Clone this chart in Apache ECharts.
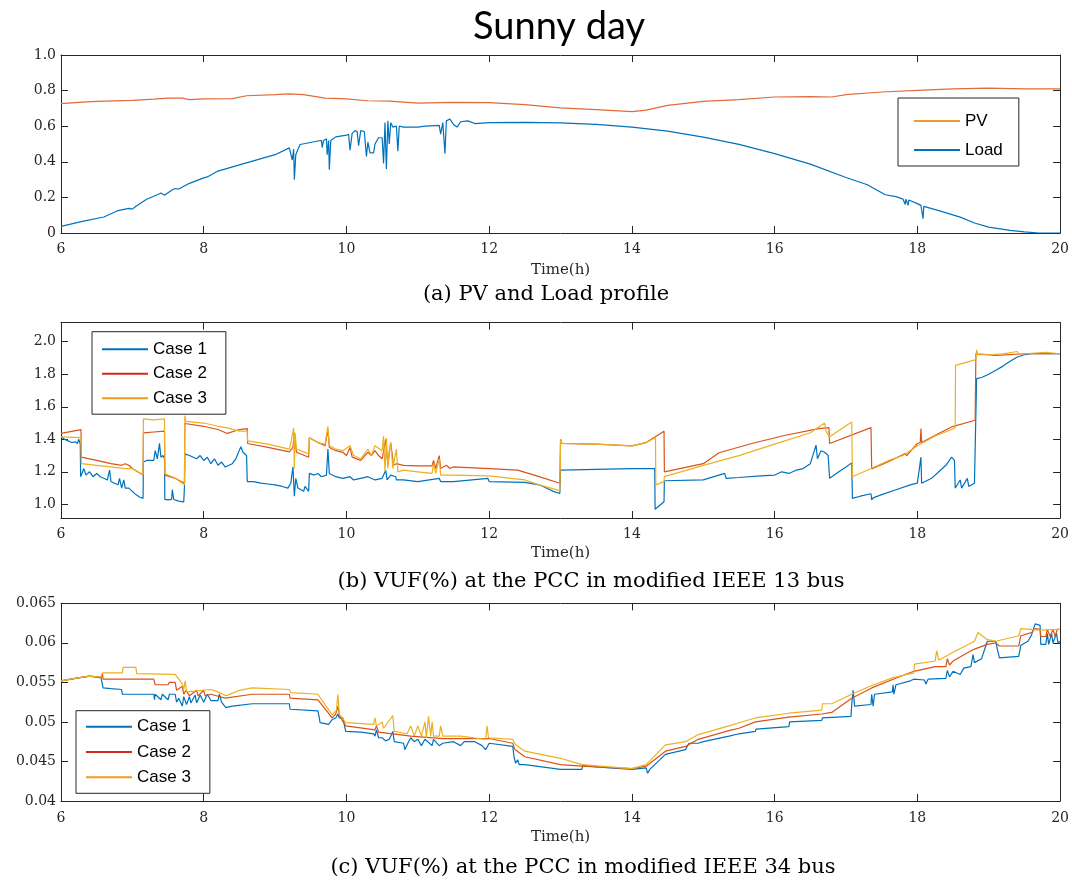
<!DOCTYPE html>
<html><head><meta charset="utf-8">
<script src="https://cdn.jsdelivr.net/npm/echarts@6/dist/echarts.min.js"></script>
<style>html,body{margin:0;padding:0;background:#fff}#c{width:1072px;height:888px}</style>
</head><body><div id="c"></div><script>
// ---------- data (time in hours, value) ----------
const xTicks = [6, 8, 10, 12, 14, 16, 18, 20];
const yTicksA = [0, 0.2, 0.4, 0.6, 0.8, 1.0];
const yTicksB = [1.0, 1.2, 1.4, 1.6, 1.8, 2.0];
const yTicksC = [0.04, 0.045, 0.05, 0.055, 0.06, 0.065];

const pvData = [[6.0,0.727],[6.3,0.735],[6.5,0.74],[7.0,0.745],[7.3,0.752],[7.5,0.758],[7.7,0.758],[7.8,0.749],[8.0,0.753],[8.4,0.755],[8.6,0.771],[9.0,0.777],[9.2,0.782],[9.4,0.777],[9.7,0.758],[10.0,0.753],[10.3,0.743],[10.6,0.741],[11.0,0.730],[11.5,0.734],[12.0,0.732],[12.5,0.721],[13.0,0.703],[13.5,0.693],[14.0,0.682],[14.2,0.69],[14.5,0.717],[15.0,0.740],[15.5,0.749],[16.0,0.764],[16.5,0.766],[16.8,0.764],[17.0,0.777],[17.5,0.792],[18.0,0.801],[18.5,0.81],[19.0,0.814],[19.5,0.81],[20.0,0.81]];

const loadData = [[6.0,0.037],[6.3,0.065],[6.6,0.09],[6.8,0.126],[6.95,0.138],[7.0,0.134],[7.05,0.15],[7.2,0.19],[7.35,0.215],[7.4,0.225],[7.45,0.212],[7.55,0.24],[7.6,0.25],[7.65,0.247],[7.8,0.279],[8.0,0.31],[8.05,0.315],[8.2,0.348],[8.5,0.383],[9.0,0.44],[9.2,0.478],[9.22,0.47],[9.24,0.41],[9.26,0.47],[9.27,0.30],[9.29,0.44],[9.32,0.47],[9.35,0.497],[9.6,0.517],[9.65,0.52],[9.66,0.48],[9.68,0.52],[9.72,0.53],[9.73,0.44],[9.75,0.52],[9.76,0.355],[9.78,0.52],[9.85,0.54],[10.0,0.55],[10.03,0.555],[10.05,0.465],[10.08,0.56],[10.12,0.575],[10.15,0.57],[10.17,0.49],[10.2,0.575],[10.25,0.57],[10.28,0.43],[10.3,0.51],[10.33,0.45],[10.38,0.45],[10.4,0.50],[10.45,0.535],[10.5,0.535],[10.52,0.39],[10.54,0.62],[10.56,0.36],[10.58,0.63],[10.6,0.50],[10.62,0.62],[10.65,0.595],[10.7,0.60],[10.72,0.46],[10.74,0.6],[10.8,0.595],[11.0,0.595],[11.1,0.60],[11.3,0.605],[11.32,0.555],[11.35,0.62],[11.38,0.445],[11.4,0.63],[11.45,0.64],[11.5,0.61],[11.55,0.595],[11.6,0.625],[11.7,0.63],[11.8,0.615],[12.0,0.62],[12.5,0.622],[13.0,0.619],[13.5,0.61],[14.0,0.595],[14.5,0.572],[15.0,0.539],[15.5,0.498],[16.0,0.446],[16.5,0.387],[17.0,0.312],[17.3,0.271],[17.55,0.215],[17.7,0.204],[17.8,0.19],[17.82,0.19],[17.83,0.16],[17.84,0.19],[17.86,0.185],[17.87,0.155],[17.88,0.185],[18.0,0.165],[18.05,0.155],[18.07,0.155],[18.08,0.08],[18.09,0.15],[18.3,0.126],[18.6,0.089],[18.8,0.056],[19.0,0.033],[19.3,0.015],[19.5,0.006],[19.7,0.0],[20.0,0.0]];

const bus13Case1 = [[6.0,1.415],[6.05,1.40],[6.1,1.39],[6.12,1.40],[6.15,1.38],[6.2,1.385],[6.23,1.374],[6.25,1.40],[6.27,1.37],[6.275,1.17],[6.3,1.18],[6.32,1.22],[6.35,1.18],[6.4,1.20],[6.45,1.17],[6.5,1.19],[6.55,1.17],[6.6,1.16],[6.65,1.15],[6.68,1.21],[6.7,1.14],[6.75,1.13],[6.8,1.12],[6.82,1.16],[6.85,1.10],[6.88,1.15],[6.9,1.10],[6.95,1.10],[7.0,1.08],[7.05,1.06],[7.1,1.045],[7.15,1.037],[7.155,1.26],[7.2,1.27],[7.3,1.27],[7.32,1.33],[7.35,1.28],[7.38,1.375],[7.4,1.29],[7.43,1.30],[7.45,1.28],[7.455,1.03],[7.5,1.027],[7.55,1.03],[7.56,1.09],[7.58,1.03],[7.65,1.02],[7.72,1.015],[7.73,1.11],[7.735,1.31],[7.8,1.30],[7.9,1.28],[7.95,1.30],[8.0,1.27],[8.05,1.29],[8.1,1.25],[8.15,1.28],[8.2,1.24],[8.25,1.26],[8.3,1.23],[8.4,1.25],[8.45,1.28],[8.52,1.355],[8.55,1.32],[8.6,1.30],[8.61,1.14],[8.7,1.14],[8.8,1.13],[8.9,1.125],[9.0,1.12],[9.1,1.11],[9.18,1.10],[9.22,1.13],[9.25,1.23],[9.27,1.05],[9.29,1.16],[9.32,1.10],[9.4,1.08],[9.42,1.11],[9.47,1.08],[9.48,1.19],[9.55,1.18],[9.6,1.19],[9.65,1.17],[9.72,1.18],[9.74,1.34],[9.76,1.19],[9.85,1.17],[9.95,1.16],[10.05,1.17],[10.1,1.15],[10.2,1.16],[10.3,1.17],[10.4,1.15],[10.5,1.16],[10.55,1.21],[10.57,1.15],[10.62,1.18],[10.69,1.17],[10.7,1.15],[10.8,1.15],[11.0,1.14],[11.3,1.16],[11.32,1.14],[11.5,1.14],[11.98,1.16],[12.0,1.14],[12.5,1.135],[12.7,1.12],[12.8,1.10],[12.9,1.08],[12.99,1.067],[13.0,1.21],[13.5,1.215],[14.0,1.22],[14.32,1.22],[14.325,0.97],[14.45,1.016],[14.455,1.145],[15.0,1.15],[15.3,1.19],[15.32,1.16],[15.5,1.165],[15.8,1.175],[16.0,1.18],[16.1,1.20],[16.2,1.19],[16.3,1.21],[16.4,1.22],[16.5,1.25],[16.52,1.24],[16.58,1.364],[16.6,1.28],[16.65,1.33],[16.7,1.32],[16.75,1.30],[16.77,1.16],[16.9,1.20],[17.0,1.23],[17.08,1.255],[17.09,1.037],[17.2,1.05],[17.35,1.065],[17.36,1.027],[17.38,1.04],[17.5,1.06],[17.7,1.09],[17.9,1.12],[18.0,1.13],[18.05,1.29],[18.06,1.13],[18.2,1.16],[18.3,1.20],[18.4,1.24],[18.48,1.29],[18.52,1.27],[18.53,1.10],[18.6,1.15],[18.62,1.10],[18.7,1.16],[18.72,1.11],[18.8,1.13],[18.82,1.125],[18.83,1.773],[18.9,1.78],[19.0,1.80],[19.1,1.824],[19.2,1.85],[19.3,1.88],[19.4,1.906],[19.5,1.92],[19.6,1.926],[20.0,1.926]];

const bus13Case2 = [[6.0,1.436],[6.28,1.46],[6.285,1.29],[6.5,1.27],[6.7,1.25],[6.85,1.24],[6.9,1.25],[6.95,1.24],[7.0,1.22],[7.15,1.18],[7.155,1.44],[7.3,1.445],[7.45,1.45],[7.455,1.18],[7.6,1.16],[7.73,1.13],[7.735,1.497],[8.0,1.48],[8.2,1.46],[8.33,1.436],[8.5,1.46],[8.61,1.466],[8.615,1.374],[8.9,1.35],[9.2,1.323],[9.25,1.35],[9.27,1.44],[9.29,1.35],[9.3,1.32],[9.47,1.29],[9.48,1.41],[9.6,1.38],[9.7,1.36],[9.74,1.46],[9.76,1.35],[9.85,1.33],[9.95,1.32],[10.0,1.30],[10.05,1.35],[10.08,1.29],[10.2,1.27],[10.3,1.32],[10.35,1.30],[10.4,1.33],[10.45,1.30],[10.5,1.28],[10.55,1.40],[10.58,1.24],[10.62,1.38],[10.66,1.24],[10.7,1.25],[10.8,1.24],[11.0,1.237],[11.2,1.237],[11.22,1.27],[11.25,1.22],[11.3,1.30],[11.32,1.22],[11.4,1.24],[11.45,1.22],[11.5,1.23],[12.0,1.22],[12.4,1.21],[12.7,1.17],[12.99,1.13],[13.0,1.40],[13.02,1.374],[13.5,1.37],[14.0,1.36],[14.2,1.38],[14.45,1.45],[14.455,1.20],[15.0,1.25],[15.22,1.317],[15.68,1.374],[16.15,1.425],[16.62,1.466],[16.76,1.472],[16.77,1.374],[17.35,1.472],[17.36,1.217],[17.64,1.272],[17.83,1.313],[17.85,1.30],[18.0,1.374],[18.04,1.38],[18.05,1.466],[18.06,1.38],[18.25,1.425],[18.48,1.476],[18.81,1.517],[18.82,1.926],[19.1,1.916],[19.5,1.926],[20.0,1.926]];

const bus13Case3 = [[6.0,1.415],[6.28,1.41],[6.285,1.25],[6.5,1.24],[6.7,1.23],[6.9,1.22],[7.0,1.22],[7.15,1.18],[7.155,1.526],[7.3,1.52],[7.45,1.526],[7.455,1.19],[7.6,1.16],[7.73,1.12],[7.735,1.545],[7.75,1.51],[8.0,1.50],[8.2,1.48],[8.33,1.47],[8.5,1.45],[8.52,1.46],[8.61,1.45],[8.615,1.39],[8.9,1.37],[9.2,1.34],[9.23,1.40],[9.26,1.47],[9.27,1.22],[9.28,1.44],[9.3,1.34],[9.47,1.31],[9.48,1.41],[9.6,1.38],[9.7,1.37],[9.74,1.48],[9.76,1.36],[9.85,1.34],[9.95,1.33],[10.05,1.36],[10.1,1.30],[10.2,1.28],[10.3,1.34],[10.35,1.30],[10.4,1.36],[10.5,1.33],[10.52,1.42],[10.54,1.20],[10.56,1.41],[10.58,1.22],[10.6,1.33],[10.62,1.38],[10.65,1.22],[10.7,1.34],[10.72,1.20],[10.8,1.21],[11.0,1.20],[11.2,1.19],[11.22,1.25],[11.25,1.19],[11.3,1.28],[11.32,1.18],[11.5,1.18],[12.0,1.175],[12.5,1.15],[12.7,1.12],[12.99,1.084],[13.0,1.40],[13.02,1.374],[13.5,1.37],[14.0,1.36],[14.2,1.38],[14.33,1.41],[14.335,1.12],[14.45,1.14],[14.455,1.17],[15.0,1.24],[15.5,1.30],[16.0,1.37],[16.5,1.44],[16.7,1.50],[16.72,1.45],[16.77,1.415],[17.08,1.507],[17.09,1.17],[17.35,1.22],[17.6,1.27],[17.8,1.30],[18.0,1.36],[18.25,1.42],[18.48,1.46],[18.53,1.47],[18.535,1.855],[18.82,1.89],[18.83,1.95],[18.85,1.92],[19.0,1.92],[19.2,1.925],[19.4,1.94],[19.42,1.926],[19.5,1.926],[19.8,1.935],[19.82,1.926],[20.0,1.926]];

const bus34Case1 = [[6.0,0.0552],[6.2,0.0555],[6.4,0.0558],[6.56,0.0556],[6.58,0.0556],[6.59,0.0543],[6.7,0.0542],[6.85,0.0541],[6.86,0.0535],[7.3,0.0535],[7.31,0.0528],[7.32,0.0535],[7.4,0.0528],[7.42,0.0535],[7.5,0.0528],[7.52,0.0535],[7.6,0.0535],[7.62,0.0525],[7.65,0.0530],[7.7,0.0520],[7.72,0.0532],[7.76,0.0522],[7.8,0.0532],[7.82,0.0524],[7.88,0.0534],[7.9,0.0524],[7.95,0.0534],[8.0,0.0525],[8.05,0.0535],[8.1,0.0527],[8.2,0.0527],[8.22,0.0535],[8.25,0.0525],[8.31,0.0518],[8.4,0.0520],[8.68,0.0523],[9.2,0.0523],[9.21,0.0516],[9.6,0.0514],[9.62,0.0505],[9.63,0.0499],[9.75,0.0497],[9.8,0.0503],[9.85,0.0505],[9.88,0.0510],[9.9,0.0505],[9.95,0.0505],[9.99,0.0488],[10.2,0.0487],[10.38,0.0485],[10.4,0.0482],[10.42,0.0490],[10.45,0.0480],[10.5,0.0480],[10.55,0.0476],[10.6,0.0478],[10.65,0.0488],[10.67,0.0475],[10.8,0.0473],[10.82,0.0465],[10.86,0.0473],[10.9,0.0480],[10.95,0.0475],[11.0,0.0478],[11.05,0.0470],[11.1,0.0478],[11.2,0.0470],[11.22,0.0478],[11.3,0.0470],[11.35,0.0473],[11.5,0.0475],[11.6,0.0470],[11.65,0.0475],[11.8,0.0475],[11.9,0.0470],[11.95,0.0465],[12.0,0.0473],[12.33,0.0469],[12.35,0.0455],[12.37,0.0448],[12.4,0.0452],[12.42,0.0446],[12.5,0.0446],[13.0,0.0440],[13.3,0.0440],[13.31,0.0445],[13.5,0.0443],[14.0,0.0440],[14.2,0.0442],[14.22,0.0435],[14.25,0.0440],[14.47,0.0459],[14.75,0.0465],[14.8,0.0473],[14.93,0.0473],[15.0,0.0475],[15.36,0.0482],[15.5,0.0485],[15.73,0.0488],[15.74,0.0491],[16.2,0.0494],[16.21,0.0500],[16.66,0.0502],[16.67,0.0505],[17.07,0.0507],[17.08,0.0522],[17.1,0.0540],[17.12,0.0520],[17.35,0.0522],[17.36,0.0535],[17.38,0.0520],[17.4,0.0535],[17.65,0.0538],[17.66,0.0547],[17.67,0.0535],[17.7,0.0547],[17.9,0.0552],[17.95,0.0554],[18.1,0.0553],[18.12,0.0548],[18.15,0.0554],[18.4,0.0555],[18.42,0.0565],[18.45,0.0557],[18.5,0.0564],[18.6,0.0560],[18.65,0.0568],[18.75,0.0570],[18.78,0.0585],[18.8,0.0575],[18.9,0.0580],[18.98,0.0602],[19.1,0.0602],[19.12,0.0592],[19.15,0.0581],[19.42,0.0583],[19.45,0.0597],[19.55,0.0602],[19.6,0.0610],[19.65,0.0624],[19.72,0.0622],[19.73,0.0598],[19.8,0.0598],[19.82,0.0612],[19.84,0.0598],[19.88,0.0612],[19.9,0.0600],[19.95,0.0612],[19.97,0.0600],[20.0,0.0602]];

const bus34Case2 = [[6.0,0.0552],[6.2,0.0555],[6.4,0.0558],[6.56,0.0556],[6.58,0.0561],[6.59,0.0554],[7.3,0.0554],[7.32,0.0547],[7.5,0.0547],[7.52,0.0550],[7.6,0.0550],[7.62,0.0540],[7.7,0.0545],[7.72,0.0535],[7.75,0.0540],[7.8,0.0533],[7.9,0.0540],[7.92,0.0533],[8.0,0.0540],[8.02,0.0533],[8.1,0.0535],[8.3,0.0530],[8.31,0.0528],[8.68,0.0535],[9.2,0.0535],[9.21,0.0530],[9.6,0.0528],[9.8,0.0505],[9.85,0.0510],[9.88,0.0520],[9.9,0.0508],[9.99,0.0495],[10.4,0.0490],[10.42,0.0495],[10.45,0.0487],[10.74,0.0484],[10.9,0.0482],[11.35,0.0479],[12.0,0.0479],[12.33,0.0473],[12.36,0.0465],[12.5,0.0456],[13.0,0.0446],[13.3,0.0444],[13.31,0.0446],[14.0,0.0441],[14.2,0.0444],[14.47,0.0463],[14.75,0.0469],[14.93,0.0478],[15.36,0.0489],[15.5,0.0492],[15.73,0.0500],[16.2,0.0506],[16.66,0.0510],[16.8,0.0512],[17.08,0.0530],[17.36,0.0543],[17.66,0.0554],[17.95,0.0564],[18.25,0.0570],[18.4,0.0570],[18.42,0.0580],[18.45,0.0572],[18.5,0.0577],[18.75,0.0590],[18.8,0.0592],[18.98,0.0598],[19.1,0.0600],[19.15,0.0596],[19.42,0.0596],[19.45,0.0609],[19.6,0.0613],[19.65,0.0618],[19.72,0.0617],[19.73,0.0608],[19.8,0.0608],[19.82,0.0617],[19.86,0.0608],[19.9,0.0617],[19.93,0.0608],[19.96,0.0617],[20.0,0.0617]];

const bus34Case3 = [[6.0,0.0552],[6.2,0.0555],[6.4,0.0558],[6.56,0.0557],[6.58,0.0562],[6.86,0.0562],[6.87,0.0569],[7.05,0.0569],[7.06,0.0561],[7.6,0.0560],[7.7,0.0548],[7.72,0.0541],[7.74,0.0552],[7.76,0.0538],[8.1,0.0541],[8.2,0.0538],[8.31,0.0533],[8.5,0.0540],[8.68,0.0543],[9.2,0.0541],[9.22,0.0537],[9.6,0.0535],[9.8,0.0509],[9.86,0.0515],[9.88,0.0535],[9.9,0.0510],[9.99,0.0499],[10.38,0.0497],[10.4,0.0505],[10.42,0.0495],[10.5,0.0500],[10.52,0.0492],[10.65,0.0508],[10.67,0.0488],[10.85,0.0485],[10.9,0.0495],[10.95,0.0482],[11.0,0.0495],[11.05,0.0482],[11.1,0.0500],[11.12,0.0480],[11.15,0.0507],[11.18,0.0482],[11.2,0.0500],[11.22,0.0482],[11.3,0.0482],[11.32,0.0495],[11.35,0.0482],[11.6,0.0482],[11.95,0.0478],[11.97,0.0495],[11.99,0.0480],[12.33,0.0478],[12.36,0.0472],[12.42,0.0468],[12.5,0.0463],[13.0,0.0454],[13.3,0.0446],[14.0,0.0441],[14.2,0.0446],[14.47,0.0471],[14.75,0.0475],[14.93,0.0484],[15.36,0.0495],[15.5,0.0499],[15.73,0.0505],[16.2,0.0511],[16.66,0.0515],[16.67,0.0523],[16.8,0.0523],[17.08,0.0535],[17.36,0.0546],[17.66,0.0556],[17.95,0.0562],[17.96,0.0573],[18.25,0.0577],[18.27,0.0590],[18.3,0.0578],[18.5,0.0588],[18.8,0.0602],[18.85,0.0613],[18.98,0.0604],[19.1,0.0602],[19.42,0.0609],[19.45,0.0618],[19.72,0.0616],[20.0,0.0617]];

// ---------- chart ----------
const FRAME = '#262626';
const SERIF = 'DejaVu Serif';
const SANS = 'Liberation Sans';
const C_BLUE = '#0072BD', C_RED = '#D95319', C_YEL = '#EDB120', C_PV = '#E36A3A';

const grids = [
  {left: 61, right: 10, top: 55, height: 178},
  {left: 61, right: 10, top: 322.7, height: 195.3},
  {left: 61, right: 10, top: 603.3, height: 197.7}
];

function tick(extra) {
  return Object.assign({show: true, inside: true, length: 7, lineStyle: {color: FRAME, width: 1}}, extra || {});
}
function xAxes(gi, labelMargin, nameGap) {
  return [
    {type: 'value', gridIndex: gi, min: 6, max: 20, interval: 2, position: 'bottom',
     name: 'Time(h)', nameLocation: 'middle', nameGap: nameGap,
     nameTextStyle: {fontFamily: SERIF, fontSize: 15, color: FRAME},
     axisLine: {show: true, onZero: false, lineStyle: {color: FRAME, width: 1}},
     axisTick: tick(),
     axisLabel: {show: true, margin: labelMargin, fontFamily: SERIF, fontSize: 14, color: FRAME},
     splitLine: {show: false}},
    {type: 'value', gridIndex: gi, min: 6, max: 20, interval: 2, position: 'top',
     axisLine: {show: true, onZero: false, lineStyle: {color: FRAME, width: 1}},
     axisTick: tick(),
     axisLabel: {show: false}, splitLine: {show: false}}
  ];
}
function yAxes(gi, min, max, ticks, fmt) {
  return [
    {type: 'value', gridIndex: gi, min: min, max: max, position: 'left',
     axisLine: {show: true, onZero: false, lineStyle: {color: FRAME, width: 1}},
     axisTick: tick({customValues: ticks}),
     axisLabel: {show: true, margin: 5, fontFamily: SERIF, fontSize: 14, color: FRAME, customValues: ticks, formatter: fmt},
     splitLine: {show: false}},
    {type: 'value', gridIndex: gi, min: min, max: max, position: 'right',
     axisLine: {show: true, onZero: false, lineStyle: {color: FRAME, width: 1}},
     axisTick: tick({customValues: ticks}),
     axisLabel: {show: false}, splitLine: {show: false}}
  ];
}
const fmtA = v => (Math.abs(v) < 1e-9 ? '0' : v.toFixed(1));
const fmtB = v => v.toFixed(1);
const fmtC = v => String(+v.toFixed(3));

function line(name, data, color, xi, yi) {
  return {type: 'line', name: name, data: data, xAxisIndex: xi, yAxisIndex: yi,
    symbol: 'none', silent: true, lineStyle: {color: color, width: 1.2}, itemStyle: {color: color}};
}

const legendText = {fontFamily: SANS, fontSize: 17, color: '#000', lineHeight: 18};
function legend(left, top, names, colors, padding, gap) {
  return {orient: 'vertical', left: left, top: top, padding: padding, itemGap: gap,
    itemWidth: 46, itemHeight: 2, icon: 'rect', borderColor: FRAME, borderWidth: 1,
    backgroundColor: '#fff', selectedMode: false, textStyle: legendText,
    data: names.map((n, i) => ({name: n, icon: 'rect', itemStyle: {color: colors[i]}}))};
}

const option = {
  animation: false,
  backgroundColor: '#fff',
  title: {text: 'Sunny day', left: 559, top: 8, textAlign: 'center', padding: 0,
    textStyle: {fontFamily: 'Lato', fontSize: 38, fontWeight: 'normal', color: '#000'}},
  grid: grids,
  xAxis: [].concat(xAxes(0, 9, 30), xAxes(1, 9, 28), xAxes(2, 10, 29)),
  yAxis: [].concat(yAxes(0, 0, 1, yTicksA, fmtA), yAxes(1, 0.916, 2.117, yTicksB, fmtB), yAxes(2, 0.04, 0.065, yTicksC, fmtC)),
  legend: [
    legend(898, 98, ['PV', 'Load'], ['#EE9B30', C_BLUE], [14, 16, 7, 16], 11),
    legend(92, 331.7, ['Case 1', 'Case 2', 'Case 3'], [C_BLUE, '#D22B1E', '#EE9B1C'], [8.5, 19, 7, 10], 6.5),
    legend(76, 710.7, ['Case 1', 'Case 2', 'Case 3'], [C_BLUE, '#D22B1E', '#EE9B1C'], [7, 19, 7, 10], 7.3)
  ],
  series: [
    line('PV', pvData, C_PV, 0, 0),
    line('Load', loadData, C_BLUE, 0, 0),
    line('Case 1', bus13Case1, C_BLUE, 2, 2),
    line('Case 2', bus13Case2, C_RED, 2, 2),
    line('Case 3', bus13Case3, C_YEL, 2, 2),
    line('Case 1', bus34Case1, C_BLUE, 4, 4),
    line('Case 2', bus34Case2, C_RED, 4, 4),
    line('Case 3', bus34Case3, C_YEL, 4, 4)
  ],
  graphic: [
    {type: 'text', x: 546, y: 295, style: {text: '(a) PV and Load profile', fontFamily: SERIF, fontSize: 21, fill: '#000', align: 'center', verticalAlign: 'middle'}},
    {type: 'text', x: 591, y: 582, style: {text: '(b) VUF(%) at the PCC in modified IEEE 13 bus', fontFamily: SERIF, fontSize: 21, fill: '#000', align: 'center', verticalAlign: 'middle'}},
    {type: 'text', x: 583, y: 868, style: {text: '(c) VUF(%) at the PCC in modified IEEE 34 bus', fontFamily: SERIF, fontSize: 21, fill: '#000', align: 'center', verticalAlign: 'middle'}}
  ]
};

const chart = echarts.init(document.getElementById('c'), null, {renderer: 'canvas', width: 1072, height: 888});
chart.setOption(option);
</script></body></html>
